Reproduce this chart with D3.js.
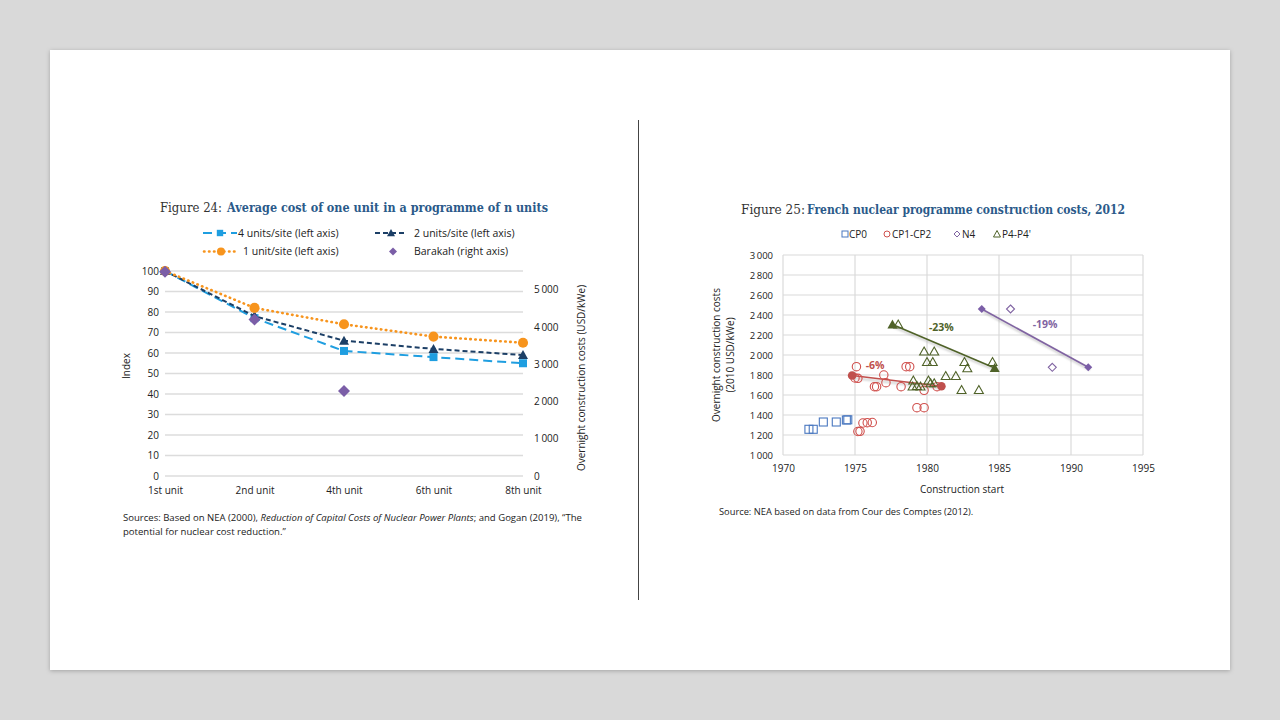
<!DOCTYPE html>
<html>
<head>
<meta charset="utf-8">
<script src="https://cdn.jsdelivr.net/npm/d3@7"></script>
<style>
  body { margin: 0; background: #d9d9d9; }
  svg { display: block; }
</style>
</head>
<body>
<div id="div_template"></div>
<script>
// *****************************************************************************
// data - figure 24
// *****************************************************************************
var units = ["1st unit", "2nd unit", "4th unit", "6th unit", "8th unit"];
var four_units = [100, 77, 61, 58, 55];
var two_units = [100, 78, 66, 62, 59];
var one_unit = [100, 82, 74, 68, 65];
var barakah = [5480, 4200, 2280, null, null];
var index_ticks = [0, 10, 20, 30, 40, 50, 60, 70, 80, 90, 100];
var cost_ticks = [0, 1000, 2000, 3000, 4000, 5000];

// *****************************************************************************
// data - figure 25 (year, cost)
// *****************************************************************************
var cp0 = [[1971.8, 1257], [1972.1, 1257], [1972.8, 1330], [1973.7, 1330], [1974.4, 1350], [1974.5, 1352]];
var cp1_cp2 = [
  [1975.1, 1883], [1975.0, 1770], [1975.2, 1767], [1977.0, 1800], [1977.15, 1723],
  [1976.35, 1683], [1976.5, 1683], [1978.2, 1683], [1978.55, 1883], [1978.8, 1883],
  [1979.3, 1473], [1979.8, 1473], [1979.8, 1647], [1975.55, 1320], [1975.85, 1323],
  [1976.2, 1325], [1975.2, 1235], [1975.35, 1237], [1980.7, 1683]
];
var n4 = [[1985.8, 2460], [1988.7, 1877]];
var p4_p4 = [
  [1978.0, 2305], [1979.8, 2035], [1980.5, 2035], [1980.0, 1930], [1980.4, 1930],
  [1982.6, 1930], [1982.8, 1867], [1984.55, 1930], [1981.3, 1790], [1982.0, 1790],
  [1979.05, 1745], [1979.0, 1685], [1979.3, 1690], [1979.55, 1685], [1980.1, 1745],
  [1980.25, 1717], [1980.5, 1717], [1982.4, 1650], [1983.6, 1650]
];
var cp_trend = [[1974.8, 1795], [1981.0, 1687]];
var p4_trend = [[1977.6, 2305], [1984.7, 1870]];
var n4_trend = [[1983.8, 2460], [1991.2, 1877]];
var trend_labels = [
  { text: "-6%", year: 1976.4, cost: 1900, color: "#c0504d" },
  { text: "-23%", year: 1981.0, cost: 2283, color: "#4f6228" },
  { text: "-19%", year: 1988.2, cost: 2310, color: "#8064a2" }
];
var year_ticks = [1970, 1975, 1980, 1985, 1990, 1995];
var cost25_ticks = [1000, 1200, 1400, 1600, 1800, 2000, 2200, 2400, 2600, 2800, 3000];

var sansFont = "'Open Sans', 'Noto Sans', sans-serif";
var serifFont = "'DejaVu Serif', serif";
var titleBlue = "#2b5a8a";

var svg = d3
  .select("#div_template")
  .append("svg")
  .attr("width", 1280)
  .attr("height", 720);

// *****************************************************************************
// page background
// *****************************************************************************
var defs = svg.append("defs");
var shadow = defs.append("filter").attr("id", "pageShadow").attr("x", "-5%").attr("y", "-5%").attr("width", "110%").attr("height", "110%");
shadow.append("feDropShadow").attr("dx", 0).attr("dy", 1).attr("stdDeviation", 2).attr("flood-color", "#000").attr("flood-opacity", 0.25);
var blur = defs.append("filter").attr("id", "lineShadow");
blur.append("feGaussianBlur").attr("stdDeviation", 1.2);

svg.append("rect").attr("width", 1280).attr("height", 720).attr("fill", "#d9d9d9");
svg
  .append("rect")
  .attr("x", 50).attr("y", 50).attr("width", 1180).attr("height", 620)
  .attr("fill", "white")
  .attr("filter", "url(#pageShadow)");

svg.append("line").attr("x1", 638.5).attr("x2", 638.5).attr("y1", 120).attr("y2", 600).attr("stroke", "#444").attr("stroke-width", 1);

// title helper: two separate texts squeezed to the width of the original serif
function drawTitle(g, label, text, x0, w0, x1, w1, yy) {
  g.append("text").attr("x", x0).attr("y", yy)
    .attr("textLength", w0).attr("lengthAdjust", "spacingAndGlyphs")
    .style("font-family", serifFont).style("font-size", "13px").attr("fill", "#333")
    .text(label);
  g.append("text").attr("x", x1).attr("y", yy)
    .attr("textLength", w1).attr("lengthAdjust", "spacingAndGlyphs")
    .style("font-family", serifFont).style("font-size", "13px").style("font-weight", "bold").attr("fill", titleBlue)
    .text(text);
}

// *****************************************************************************
// figure 24
// *****************************************************************************
function drawFigure24() {
  var g = svg.append("g");
  var x = d3.scalePoint().domain(units).range([165, 523]);
  var y = d3.scaleLinear().domain([0, 100]).range([476, 271]);
  var y2 = d3.scaleLinear().domain([0, 5500]).range([476, 271]);

  drawTitle(g, "Figure 24:", "Average cost of one unit in a programme of n units", 160, 62, 227, 321, 212);

  // gridlines
  g.selectAll(".grid")
    .data(index_ticks)
    .enter()
    .append("line")
    .attr("x1", 165).attr("x2", 523)
    .attr("y1", function (d) { return y(d); })
    .attr("y2", function (d) { return y(d); })
    .attr("stroke", "#dcdcdc")
    .attr("stroke-width", 1.5);

  // left axis
  var left = g.append("g").attr("transform", "translate(165,0)")
    .call(d3.axisLeft(y).tickValues(index_ticks).tickSize(0).tickPadding(6));
  left.select(".domain").remove();
  left.selectAll("text").style("font-family", sansFont).style("font-size", "10px").attr("fill", "#222");

  // right axis
  var right = g.append("g").attr("transform", "translate(523,0)")
    .call(d3.axisRight(y2).tickValues(cost_ticks).tickSize(0).tickPadding(11)
      .tickFormat(function (d) { return d == 0 ? "0" : d3.format(",")(d).replace(",", "\u2009"); }));
  right.select(".domain").remove();
  right.selectAll("text").style("font-family", sansFont).style("font-size", "10px").attr("fill", "#222");

  // bottom axis
  var bottom = g.append("g").attr("transform", "translate(0,476)")
    .call(d3.axisBottom(x).tickSize(0).tickPadding(11));
  bottom.select(".domain").remove();
  bottom.selectAll("text").style("font-family", sansFont).style("font-size", "10px").attr("fill", "#222");

  // axis titles
  g.append("text").attr("transform", "translate(130,366) rotate(-90)").attr("text-anchor", "middle")
    .style("font-family", sansFont).style("font-size", "10px").attr("fill", "#222").text("Index");
  g.append("text").attr("transform", "translate(585,378) rotate(-90)").attr("text-anchor", "middle")
    .style("font-family", sansFont).style("font-size", "10px").attr("fill", "#222").text("Overnight construction costs (USD/kWe)");

  var line = d3.line().x(function (d, i) { return x(units[i]); }).y(function (d) { return y(d); });

  var series = [
    { data: four_units, color: "#1f9ee0", dash: "9,5", width: 2, cap: "butt", marker: "square" },
    { data: two_units, color: "#1c3f66", dash: "5,3", width: 2, cap: "butt", marker: "triangle" },
    { data: one_unit, color: "#f7941d", dash: "0.5,4.5", width: 2.6, cap: "round", marker: "circle" }
  ];

  series.forEach(function (s) {
    g.append("path").datum(s.data)
      .attr("fill", "none").attr("stroke", s.color).attr("stroke-width", s.width)
      .attr("stroke-dasharray", s.dash).attr("stroke-linecap", s.cap)
      .attr("d", line);
    g.selectAll(".m").data(s.data).enter().append("path")
      .attr("transform", function (d, i) { return "translate(" + x(units[i]) + "," + y(d) + ")"; })
      .attr("d", markerPath(s.marker))
      .attr("fill", s.color);
  });

  // barakah diamonds
  g.selectAll(".bk")
    .data(barakah.filter(function (d) { return d != null; }))
    .enter()
    .append("path")
    .attr("transform", function (d, i) { return "translate(" + x(units[i]) + "," + y2(d) + ")"; })
    .attr("d", "M0,-6L6,0L0,6L-6,0Z")
    .attr("fill", "#7b5ea7");

  // legend
  var lg = g.append("g").style("font-family", sansFont).style("font-size", "10.5px").attr("fill", "#222");
  legendLine(lg, 203, 237, 233, series[0]);
  lg.append("text").attr("x", 238).attr("y", 236.5).text("4 units/site (left axis)");
  legendLine(lg, 375, 407, 233, series[1]);
  lg.append("text").attr("x", 414).attr("y", 236.5).text("2 units/site (left axis)");
  legendLine(lg, 204, 238, 251.5, series[2]);
  lg.append("text").attr("x", 243).attr("y", 255).text("1 unit/site (left axis)");
  lg.append("path").attr("transform", "translate(393,251.5)").attr("d", "M0,-4L4,0L0,4L-4,0Z").attr("fill", "#7b5ea7");
  lg.append("text").attr("x", 414).attr("y", 255).text("Barakah (right axis)");

  // sources
  var src = g.append("text").style("font-family", sansFont).style("font-size", "9.55px").attr("fill", "#222");
  src.append("tspan").attr("x", 123).attr("y", 521).text("Sources: Based on NEA (2000), ");
  src.append("tspan").style("font-style", "italic").text("Reduction of Capital Costs of Nuclear Power Plants");
  src.append("tspan").text("; and Gogan (2019), \u201CThe");
  g.append("text").attr("x", 123).attr("y", 535).style("font-family", sansFont).style("font-size", "9.55px").attr("fill", "#222")
    .text("potential for nuclear cost reduction.\u201D");

  function legendLine(sel, x1, x2, yy, s) {
    sel.append("line").attr("x1", x1).attr("x2", x2).attr("y1", yy).attr("y2", yy)
      .attr("stroke", s.color).attr("stroke-width", s.width).attr("stroke-dasharray", s.dash).attr("stroke-linecap", s.cap);
    sel.append("path").attr("transform", "translate(" + (x1 + x2) / 2 + "," + yy + ")")
      .attr("d", markerPath(s.marker, 0.8)).attr("fill", s.color);
  }
}

function markerPath(type, k) {
  k = k || 1;
  if (type == "square") return "M" + -4 * k + "," + -4 * k + "h" + 8 * k + "v" + 8 * k + "h" + -8 * k + "Z";
  if (type == "triangle") return "M0," + -5 * k + "L" + 5 * k + "," + 4 * k + "L" + -5 * k + "," + 4 * k + "Z";
  if (type == "circle") return d3.symbol().type(d3.symbolCircle).size(80 * k * k)();
  return "";
}

// *****************************************************************************
// figure 25
// *****************************************************************************
function drawFigure25() {
  var g = svg.append("g");
  var x = d3.scaleLinear().domain([1970, 1995]).range([783, 1143]);
  var y = d3.scaleLinear().domain([1000, 3000]).range([455, 255]);

  drawTitle(g, "Figure 25:", "French nuclear programme construction costs, 2012", 741, 64, 807, 318, 214);

  // grid
  g.selectAll(".vg").data(year_ticks).enter().append("line")
    .attr("x1", function (d) { return x(d); }).attr("x2", function (d) { return x(d); })
    .attr("y1", 255).attr("y2", 455).attr("stroke", "#dadada").attr("stroke-width", 1.2);
  g.selectAll(".hg").data(cost25_ticks).enter().append("line")
    .attr("y1", function (d) { return y(d); }).attr("y2", function (d) { return y(d); })
    .attr("x1", 783).attr("x2", 1143).attr("stroke", "#dadada").attr("stroke-width", 1.2);

  var fmt = function (d) { return d3.format(",")(d).replace(",", "\u2009"); };
  var left = g.append("g").attr("transform", "translate(783,0)")
    .call(d3.axisLeft(y).tickValues(cost25_ticks).tickSize(0).tickPadding(10).tickFormat(fmt));
  left.select(".domain").remove();
  left.selectAll("text").style("font-family", sansFont).style("font-size", "9.5px").attr("fill", "#222");

  var bottom = g.append("g").attr("transform", "translate(0,455)")
    .call(d3.axisBottom(x).tickValues(year_ticks).tickSize(0).tickPadding(10).tickFormat(d3.format("d")));
  bottom.select(".domain").remove();
  bottom.selectAll("text").style("font-family", sansFont).style("font-size", "10px").attr("fill", "#222");

  g.append("text").attr("x", 962).attr("y", 493).attr("text-anchor", "middle")
    .style("font-family", sansFont).style("font-size", "10px").attr("fill", "#222").text("Construction start");
  g.append("text").attr("transform", "translate(720,355) rotate(-90)").attr("text-anchor", "middle")
    .style("font-family", sansFont).style("font-size", "10px").attr("fill", "#222").text("Overnight construction costs");
  g.append("text").attr("transform", "translate(734,355) rotate(-90)").attr("text-anchor", "middle")
    .style("font-family", sansFont).style("font-size", "10px").attr("fill", "#222").text("(2010 USD/kWe)");

  // trend lines with soft shadow
  var tl = d3.line().x(function (d) { return x(d[0]); }).y(function (d) { return y(d[1]); });
  [[cp_trend, "#c0504d"], [p4_trend, "#4f6228"], [n4_trend, "#8064a2"]].forEach(function (t) {
    g.append("path").datum(t[0]).attr("d", tl).attr("stroke", "#888").attr("stroke-width", 1.6)
      .attr("fill", "none").attr("opacity", 0.5).attr("transform", "translate(1.5,2.5)").attr("filter", "url(#lineShadow)");
    g.append("path").datum(t[0]).attr("d", tl).attr("stroke", t[1]).attr("stroke-width", 1.6).attr("fill", "none");
  });

  // scatter points
  g.selectAll(".cp0").data(cp0).enter().append("rect")
    .attr("x", function (d) { return x(d[0]) - 4; }).attr("y", function (d) { return y(d[1]) - 4; })
    .attr("width", 8).attr("height", 8).attr("fill", "white").attr("fill-opacity", 0).attr("stroke", "#4a78c0").attr("stroke-width", 1.1);
  g.selectAll(".cp12").data(cp1_cp2).enter().append("circle")
    .attr("cx", function (d) { return x(d[0]); }).attr("cy", function (d) { return y(d[1]); })
    .attr("r", 4.2).attr("fill", "none").attr("stroke", "#d0504d").attr("stroke-width", 1.1);
  g.selectAll(".p4").data(p4_p4).enter().append("path")
    .attr("transform", function (d) { return "translate(" + x(d[0]) + "," + y(d[1]) + ")"; })
    .attr("d", "M0,-4.5L4.5,3.5L-4.5,3.5Z").attr("fill", "none").attr("stroke", "#4f6228").attr("stroke-width", 1.1);
  g.selectAll(".n4").data(n4).enter().append("path")
    .attr("transform", function (d) { return "translate(" + x(d[0]) + "," + y(d[1]) + ")"; })
    .attr("d", "M0,-4L4,0L0,4L-4,0Z").attr("fill", "white").attr("stroke", "#8064a2").attr("stroke-width", 1.1);

  // trend end markers
  g.selectAll(".cpe").data(cp_trend).enter().append("circle")
    .attr("cx", function (d) { return x(d[0]); }).attr("cy", function (d) { return y(d[1]); })
    .attr("r", 4.3).attr("fill", "#c0504d");
  g.selectAll(".p4e").data(p4_trend).enter().append("path")
    .attr("transform", function (d) { return "translate(" + x(d[0]) + "," + y(d[1]) + ")"; })
    .attr("d", "M0,-5L5,4L-5,4Z").attr("fill", "#4f6228");
  g.selectAll(".n4e").data(n4_trend).enter().append("path")
    .attr("transform", function (d) { return "translate(" + x(d[0]) + "," + y(d[1]) + ")"; })
    .attr("d", "M0,-4L4,0L0,4L-4,0Z").attr("fill", "#7b5ea7");

  g.selectAll(".tlab").data(trend_labels).enter().append("text")
    .attr("x", function (d) { return x(d.year); }).attr("y", function (d) { return y(d.cost) + 4; })
    .attr("text-anchor", "middle").style("font-family", sansFont).style("font-size", "10.5px").style("font-weight", "bold")
    .attr("fill", function (d) { return d.color; }).text(function (d) { return d.text; });

  // legend
  var lg = g.append("g").style("font-family", sansFont).style("font-size", "10px").attr("fill", "#222");
  lg.append("rect").attr("x", 842).attr("y", 231).attr("width", 6).attr("height", 6).attr("fill", "none").attr("stroke", "#4a78c0");
  lg.append("text").attr("x", 849).attr("y", 238).text("CP0");
  lg.append("circle").attr("cx", 887).attr("cy", 234).attr("r", 3).attr("fill", "none").attr("stroke", "#d0504d");
  lg.append("text").attr("x", 892).attr("y", 238).text("CP1-CP2");
  lg.append("path").attr("transform", "translate(957,234)").attr("d", "M0,-3L3,0L0,3L-3,0Z").attr("fill", "none").attr("stroke", "#8064a2");
  lg.append("text").attr("x", 962).attr("y", 238).text("N4");
  lg.append("path").attr("transform", "translate(997,234)").attr("d", "M0,-3.5L3.5,3L-3.5,3Z").attr("fill", "none").attr("stroke", "#4f6228");
  lg.append("text").attr("x", 1002).attr("y", 238).text("P4-P4'");

  g.append("text").attr("x", 719).attr("y", 515).style("font-family", sansFont).style("font-size", "9.3px").attr("fill", "#222")
    .text("Source: NEA based on data from Cour des Comptes (2012).");
}

drawFigure24();
drawFigure25();
</script>
</body>
</html>
